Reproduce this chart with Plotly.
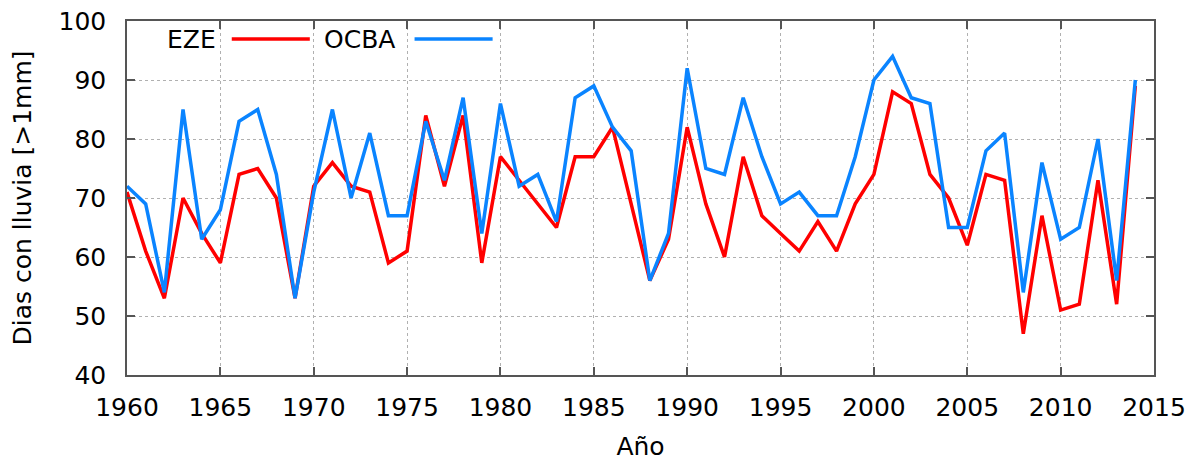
import plotly.graph_objects as go

years = list(range(1960, 2015))

eze = [71, 61, 53, 70, 64, 59, 74, 75, 70, 53,
       72, 76, 72, 71, 59, 61, 84, 72, 84, 59,
       77, 73, 69, 65, 77, 77, 82, 69, 56, 63,
       82, 69, 60, 77, 67, 64, 61, 66, 61, 69,
       74, 88, 86, 74, 70, 62, 74, 73, 47, 67,
       51, 52, 73, 52, 89]

ocba = [72, 69, 54, 85, 63, 68, 83, 85, 74, 53,
        71, 85, 70, 81, 67, 67, 83, 73, 87, 64,
        86, 72, 74, 66, 87, 89, 82, 78, 56, 64,
        92, 75, 74, 87, 77, 69, 71, 67, 67, 77,
        90, 94, 87, 86, 65, 65, 78, 81, 54, 76,
        63, 65, 80, 56, 90]

RED = "#ff0000"
BLUE = "#0a84ff"
FONT = "DejaVu Sans"
FS = 25

fig = go.Figure()
fig.add_trace(go.Scatter(x=years, y=eze, mode="lines", name="EZE",
                         line=dict(color=RED, width=3.5)))
fig.add_trace(go.Scatter(x=years, y=ocba, mode="lines", name="OCBA",
                         line=dict(color=BLUE, width=3.5)))

axis_common = dict(
    showline=True, linecolor="#555555", linewidth=1.5, mirror="ticks",
    ticks="inside", ticklen=8, tickcolor="#555555", tickwidth=1.5,
    showgrid=True, gridcolor="#b0b0b0", griddash="dot", gridwidth=1,
    zeroline=False, automargin=False, ticklabeloverflow="allow",
    tickfont=dict(family=FONT, size=FS, color="black"),
)

fig.update_xaxes(range=[1960, 2015], dtick=5, tick0=1960,
                 title=dict(text="Año", font=dict(family=FONT, size=FS, color="black"), standoff=18),
                 ticklabelstandoff=9, **axis_common)
fig.update_yaxes(range=[40, 100], dtick=10, tick0=40,
                 title=dict(text="Dias con lluvia [>1mm]", font=dict(family=FONT, size=FS, color="black"), standoff=22),
                 ticklabelstandoff=14, **axis_common)

# gnuplot-style key: label first, then line sample
key = [("EZE", RED, 0.0886, 0.102, 0.178), ("OCBA", BLUE, 0.263, 0.280, 0.356)]
for label, color, tx, x0, x1 in key:
    fig.add_annotation(text=label, xref="paper", yref="paper", x=tx, y=0.949,
                       xanchor="right", yanchor="middle", showarrow=False,
                       font=dict(family=FONT, size=FS, color="black"))
    fig.add_shape(type="line", xref="paper", yref="paper", x0=x0, x1=x1, y0=0.949, y1=0.949,
                  line=dict(color=color, width=3.5))

# page body has an 8px margin, so the figure is shrunk by that amount
fig.update_layout(
    width=1189, height=453,
    margin=dict(l=119, r=43, t=13, b=86),
    paper_bgcolor="white", plot_bgcolor="white",
    showlegend=False,
    font=dict(family=FONT, color="black"),
)

fig.write_html("out.html")
